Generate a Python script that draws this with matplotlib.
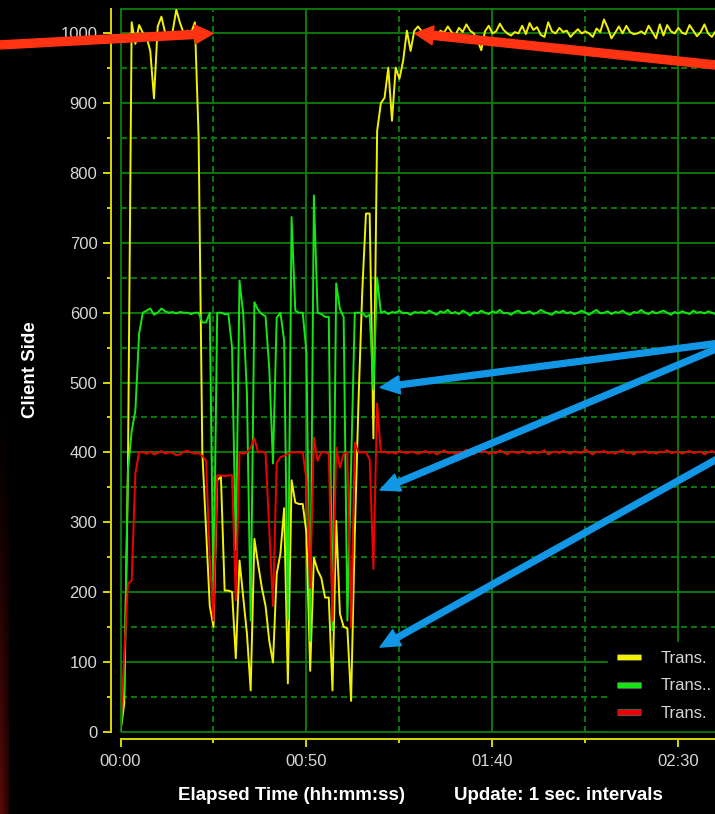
import numpy as np
import matplotlib
matplotlib.use('Agg')
import matplotlib.pyplot as plt
import matplotlib.patheffects as pe
from matplotlib.lines import Line2D
from matplotlib.patches import Rectangle
from matplotlib.ticker import MultipleLocator

plt.rcParams['font.family'] = ['Liberation Sans', 'DejaVu Sans']
plt.rcParams['lines.scale_dashes'] = False

# one sample per second
yellow = [0, 40, 374, 1016, 985, 1012, 1001, 995, 975, 907,
          1010, 1024, 1001, 998, 1002, 1034, 1015, 1000, 1004, 1001,
          1016, 852, 400, 290, 180, 150, 360, 365, 202, 202,
          200, 105, 245, 192, 140, 59, 276, 240, 206, 180,
          130, 99, 226, 255, 320, 69, 360, 328, 326, 326,
          284, 87, 249, 231, 220, 192, 192, 59, 302, 169,
          150, 148, 44, 284, 474, 630, 742, 742, 420, 860,
          900, 908, 951, 875, 951, 935, 961, 1004, 975, 1004,
          1010,
          1003, 998, 1006, 1000, 995, 1004, 1001, 1010, 1002, 997,
          1008, 1002, 1013, 1004, 1000, 990, 976, 1003, 1011, 1000,
          1003, 1014, 1005, 1000, 997, 1002, 1000, 1011, 999, 1015,
          1005, 1009, 998, 995, 1016, 1003, 1000, 1008, 1002, 1004,
          995, 1001, 1006, 1000, 1003, 1000, 995, 1007, 1002, 1020,
          1008, 993, 1001, 1010, 1000, 1011, 1002, 999, 1000, 1003,
          999, 1011, 1002, 993, 1013, 997, 1012, 1003, 1000, 1008,
          1001, 999, 1012, 1004, 996, 1002, 1013, 1000, 995, 1003]

green = [0, 60, 374, 430, 460, 570, 600, 603, 606, 597,
         600, 606, 602, 600, 601, 599, 601, 600, 600, 598,
         600, 600, 586, 586, 600, 190, 600, 600, 598, 598,
         550, 260, 646, 598, 484, 159, 615, 604, 598, 595,
         520, 384, 593, 600, 560, 160, 737, 603, 600, 600,
         543, 130, 768, 600, 598, 594, 594, 145, 642, 605,
         594, 159, 380, 600, 600, 600, 594, 597, 490, 650,
         600, 602, 598, 601, 600, 603, 599, 600, 597, 601,
         600,
         601, 599, 603, 600, 597, 602, 600, 604, 599, 601,
         598, 603, 600, 596, 601, 599, 603, 600, 598, 602,
         600, 604, 599, 600, 597, 601, 603, 599, 600, 602,
         598, 600, 604, 601, 599, 597, 602, 600, 603, 599,
         601, 598, 600, 603, 600, 597, 601, 604, 599, 600,
         602, 598, 601, 600, 603, 599, 597, 601, 600, 604,
         600, 598, 602, 599, 601, 603, 600, 597, 601, 599,
         602, 600, 598, 603, 600, 601, 599, 602, 600, 598]

red = [0, 111, 212, 216, 370, 400, 400, 398, 401, 397,
       399, 402, 398, 400, 399, 396, 397, 401, 402, 400,
       398, 399, 395, 388, 250, 159, 367, 367, 366, 367,
       367, 188, 400, 398, 400, 407, 420, 400, 401, 399,
       288, 180, 385, 393, 395, 398, 400, 400, 400, 400,
       360, 206, 421, 388, 400, 400, 398, 159, 407, 378,
       398, 400, 149, 414, 400, 400, 400, 390, 233, 470,
       400, 401, 399, 400, 398, 402, 400, 399, 401, 400,
       398,
       400, 402, 399, 401, 397, 400, 403, 399, 400, 398,
       401, 400, 404, 399, 397, 401, 400, 402, 398, 400,
       399, 403, 400, 397, 401, 400, 399, 402, 400, 398,
       401, 399, 400, 403, 397, 400, 401, 399, 402, 400,
       398, 401, 400, 399, 404, 400, 397, 401, 400, 402,
       399, 400, 398, 401, 403, 399, 400, 397, 401, 400,
       402, 399, 400, 398, 401, 400, 403, 399, 400, 401,
       398, 400, 402, 399, 400, 401, 397, 400, 402, 399]

series_labels = ['Trans.', 'Trans..', 'Trans.']
series_colors = ['#f2f200', '#14e614', '#f00000']
x_ticks = [0, 50, 100, 150]
x_ticklabels = ['00:00', '00:50', '01:40', '02:30']
y_ticks = list(range(0, 1001, 100))

GRID = '#0a780a'
AXIS = '#d8d800'
TICKTXT = '#d6d6d6'

t = np.arange(len(yellow))

fig = plt.figure(figsize=(7.15, 8.14), dpi=100, facecolor='black')

# dark red strip along the left edge
strip = fig.add_axes([0, 0, 9 / 715, 424 / 814])
rows = np.linspace(0, 1, 120)[:, None]
cols = np.linspace(1, 0.4, 9)[None, :]
shade = (rows ** 1.3) * cols
img = np.dstack([0.36 * shade, 0.04 * shade, 0.03 * shade])
strip.imshow(img, aspect='auto', interpolation='bilinear')
strip.axis('off')

ax = fig.add_axes([120.5 / 715, 82.4 / 814, 602.5 / 715, 722.6 / 814])
ax.set_facecolor('black')
ax.set_xlim(0, 162)
ax.set_ylim(0, 1035)

ax.set_axisbelow(True)
ax.grid(which='major', color=GRID, lw=1.4, ls='-')
ax.grid(which='minor', color=GRID, lw=1.4, ls=(0, (4.3, 2.9)))
ax.add_patch(Rectangle((0, 0), 1, 1, transform=ax.transAxes, fill=False,
                       ec=GRID, lw=1.4, clip_on=False, zorder=1))

for name, vals, c in zip(series_labels, [yellow, green, red], series_colors):
    ax.plot(t, vals, color=c, lw=1.4, zorder=3)

for s in ['top', 'right']:
    ax.spines[s].set_visible(False)
ax.spines['left'].set_position(('outward', 6.5))
ax.spines['bottom'].set_position(('outward', 5.0))
for s in ['left', 'bottom']:
    ax.spines[s].set_color(AXIS)
    ax.spines[s].set_linewidth(1.4)

ax.set_xticks(x_ticks, x_ticklabels)
ax.set_yticks(y_ticks)
ax.xaxis.set_minor_locator(MultipleLocator(25))
ax.yaxis.set_minor_locator(MultipleLocator(50))
ax.tick_params(which='major', direction='out', length=5.8, width=1.4,
               color=AXIS, labelcolor=TICKTXT, labelsize=12)
ax.tick_params(which='minor', direction='out', length=2.9, width=1.4, color=AXIS)
ax.tick_params(axis='y', which='major', pad=4.3)
ax.tick_params(axis='x', which='major', pad=5.0)

handles = [Line2D([], [], color=c, lw=3.6, solid_capstyle='butt',
                  path_effects=[pe.Stroke(linewidth=5.2, foreground='#555555'), pe.Normal()])
           for c in series_colors]
leg = ax.legend(handles, series_labels, loc='lower left', bbox_to_anchor=(0.809, 0.002),
                frameon=True, facecolor='black', edgecolor='black', framealpha=1,
                fontsize=12, labelcolor=TICKTXT, handlelength=1.45, handletextpad=1.15,
                labelspacing=0.75, borderpad=0.55, borderaxespad=0, fancybox=False)
leg.set_zorder(6)

fig.text(31 / 715, 1 - 370 / 814, 'Client Side', rotation=90, ha='center', va='center',
         color='white', fontsize=13.5, fontweight='bold')
fig.text(291.5 / 715, 1 - 795 / 814, 'Elapsed Time (hh:mm:ss)', ha='center', va='center',
         color='white', fontsize=13.5, fontweight='bold')
fig.text(558 / 715, 1 - 795 / 814, 'Update: 1 sec. intervals', ha='center', va='center',
         color='white', fontsize=13.5, fontweight='bold')

# call-out arrows
red_arrow = dict(arrowstyle='simple,head_length=1.3,head_width=1.35,tail_width=0.58',
                 mutation_scale=10, color='#ff3311', shrinkA=0, shrinkB=0)
blue_arrow = dict(arrowstyle='simple,head_length=1.4,head_width=1.3,tail_width=0.42',
                  mutation_scale=10, color='#1296e6', shrinkA=0, shrinkB=0)
ax.annotate('', xy=(24.9, 1000), xytext=(-20, 768), textcoords='figure pixels',
            arrowprops=red_arrow, annotation_clip=False, zorder=7)
ax.annotate('', xy=(79.2, 1000), xytext=(735, 747), textcoords='figure pixels',
            arrowprops=red_arrow, annotation_clip=False, zorder=7)
ax.annotate('', xy=(69.8, 493), xytext=(735, 473), textcoords='figure pixels',
            arrowprops=blue_arrow, annotation_clip=False, zorder=7)
ax.annotate('', xy=(69.8, 346), xytext=(735, 473), textcoords='figure pixels',
            arrowprops=blue_arrow, annotation_clip=False, zorder=7)
ax.annotate('', xy=(69.8, 121), xytext=(735, 365), textcoords='figure pixels',
            arrowprops=blue_arrow, annotation_clip=False, zorder=7)

fig.savefig('out.png', dpi=100, facecolor='black')
